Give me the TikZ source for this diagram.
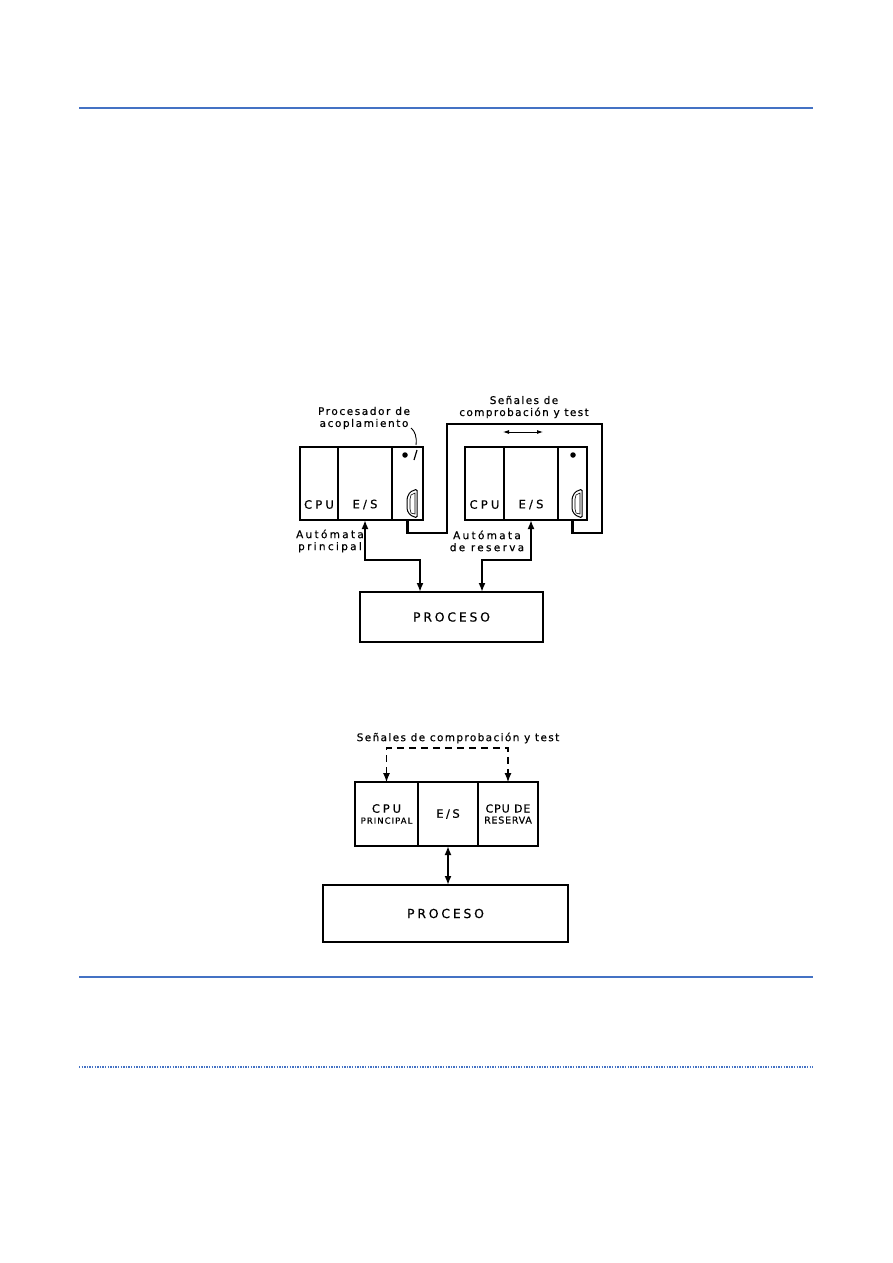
\documentclass[tikz,border=0pt]{standalone}
\usepackage{fontspec}
\setmainfont{DejaVu Sans}[LetterSpace=15, FakeBold=0.5]
\usepackage{tikz}
\usetikzlibrary{arrows.meta}
\usetikzlibrary{positioning}
\definecolor{azulregla}{HTML}{4472C4}
\tikzset{modulo/.style = {draw, line width=1.8pt, minimum height=73, inner sep=0, outer sep=0}}
\tikzset{caja/.style = {draw, line width=2pt, inner sep=0, outer sep=0}}
\tikzset{rotulo/.style = {inner sep=0, font=\fontsize{11.5}{12}\selectfont\addfontfeature{LetterSpace=28}}}
\tikzset{etq/.style = {inner sep=0, align=center, font=\fontsize{10.5}{12}\selectfont}}
\tikzset{enlace/.style = {line width=2.4pt}}
\tikzset{flechas/.style = {{Latex[length=9pt,width=7pt]}-{Latex[length=9pt,width=7pt]}, line width=1.8pt}}
\tikzset{punto/.style = {fill, circle, inner sep=0, minimum size=5.5}}
\tikzset{regla/.style = {draw=azulregla, line width=1.4pt}}

\begin{document}
\begin{tikzpicture}[x=1pt, y=-1pt]
      \useasboundingbox (0,0) rectangle (893,1263);

      % rules of the page
      \draw [regla] (79,108) -- (813,108);
      \draw [regla] (79,977) -- (813,977);
      \draw [regla, line width=2pt, dash pattern=on 1.3pt off 1.3pt] (79,1067) -- (813,1067);

      % automata principal
      \node [modulo, minimum width=38] (cpuA) at (319,483.5) {};
      \node [modulo, minimum width=54, right=0pt of cpuA] (esA) {};
      \node [modulo, minimum width=31, right=0pt of esA] (acopA) {};
      \node [rotulo] (tcpuA) at ([yshift=-21]cpuA.center) {CPU};
      \node [rotulo] (tesA) at ([yshift=-21]esA.center) {E/S};
      \node [punto] (ledA) at (405,455) {};

      % automata de reserva
      \node [modulo, minimum width=39] (cpuB) at (484.5,483.5) {};
      \node [modulo, minimum width=54, right=0pt of cpuB] (esB) {};
      \node [modulo, minimum width=29, right=0pt of esB] (acopB) {};
      \node [rotulo] (tcpuB) at ([yshift=-21]cpuB.center) {CPU};
      \node [rotulo] (tesB) at ([yshift=-21]esB.center) {E/S};
      \node [punto] (ledB) at (573,455) {};

      % conectores
      \foreach \x in {407,572} {
        \draw [line width=1pt, rounded corners=1.5pt] (\x+10,489) -- (\x+3,492) -- (\x,498) -- (\x,510) -- (\x+3,515) -- (\x+10,518) -- cycle;
        \draw [line width=0.6pt] (\x+8,493) -- (\x+4,495) -- (\x+3,499) -- (\x+3,509) -- (\x+4,513) -- (\x+8,514) -- cycle;
      }

      \node [rotulo, minimum width=183, minimum height=50, caja] (proc) at (451.5,617) {\fontsize{12.5}{12}\selectfont\addfontfeature{LetterSpace=22}PROCESO};

      \node [etq] (tacop) at (364,418) {Procesador de\\acoplamiento};
      \node [etq] (tsenal) at (524,407) {\addfontfeature{LetterSpace=13}Señales de\\\addfontfeature{LetterSpace=13}comprobación y test};
      \node [etq] (tprin) at (330,541) {\addfontfeature{LetterSpace=22}Autómata\\\addfontfeature{LetterSpace=22}principal};
      \node [etq] (tres) at (487,541) {\addfontfeature{LetterSpace=22}Autómata\\\addfontfeature{LetterSpace=22}de reserva};

      \draw [line width=0.9pt] (411,428) .. controls (415,431) and (417,437) .. (416,445);
      \draw [line width=1.2pt] (417,450) -- (414,460);

      \coordinate (puente) at (447,424);
      \coordinate (vuelta) at (602,533);
      \draw [enlace] (acopA.south) -- ++(0,13) -| (puente) -| (vuelta) -| (acopB.south);

      \coordinate (flA) at (503,432);
      \coordinate (flB) at (543,432);
      \draw [{Latex[length=6pt,width=4pt]}-{Latex[length=6pt,width=4pt]}, line width=0.8pt] (flA) -- (flB);

      \coordinate (codoA) at (420,560);
      \coordinate (codoB) at (482,560);
      \draw [flechas] (esA.south) |- (codoA) -- (codoA |- proc.north);
      \draw [flechas] (esB.south) |- (codoB) -- (codoB |- proc.north);

      % CPU duplicada
      \node [caja, line width=2.6pt, minimum width=63, minimum height=64, align=center] (cpuP) at (386.5,814) {\fontsize{11.5}{12}\selectfont\addfontfeature{LetterSpace=25}CPU\\[-1pt]\fontsize{8.5}{10}\selectfont\addfontfeature{LetterSpace=12}PRINCIPAL};
      \node [caja, line width=1.5pt, minimum width=60, minimum height=64, right=0pt of cpuP] (es) {\fontsize{11.5}{12}\selectfont\addfontfeature{LetterSpace=22}E/S};
      \node [caja, line width=2.6pt, minimum width=60, minimum height=64, align=center, right=0pt of es] (cpuR) {\fontsize{11}{12}\selectfont\addfontfeature{LetterSpace=8}CPU DE\\[-1pt]\fontsize{9.5}{10}\selectfont\addfontfeature{LetterSpace=8}RESERVA};
      \node [caja, minimum width=245, minimum height=57] (proc2) at (445.5,913.5) {\fontsize{12.5}{12}\selectfont\addfontfeature{LetterSpace=22}PROCESO};

      \node [etq] (tsenal2) at (458,738) {\addfontfeature{LetterSpace=13}Señales de comprobación y test};
      \draw [flechas, line width=1.1pt, dash pattern=on 7pt off 5pt] (cpuP.north) -- ++(0,-34) -| (cpuR.north);
      \draw [flechas] (es.south) -- (es.south |- proc2.north);
    \end{tikzpicture}
\end{document}
